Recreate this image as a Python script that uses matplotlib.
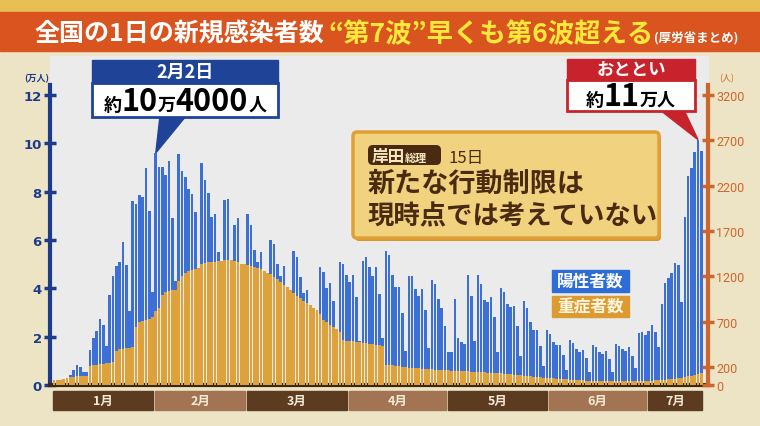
import numpy as np
import matplotlib.pyplot as plt
from matplotlib.patches import Rectangle, FancyBboxPatch, Polygon

plt.rcParams['font.family'] = ['Noto Sans CJK JP', 'DejaVu Sans']

# 陽性者数 (万人), 1/1 - 7/17
positives = [
    # 1月
    0.04, 0.05, 0.07, 0.12, 0.24, 0.41, 0.63, 0.83, 0.76, 0.55,
    0.55, 1.46, 1.94, 2.23, 2.73, 2.48, 1.60, 3.74, 4.52, 4.94,
    5.10, 5.90, 4.97, 3.06, 7.63, 7.48, 7.88, 7.79, 8.97, 7.20,
    3.83,
    # 2月
    9.60, 9.03, 9.00, 8.69, 9.27, 6.91, 4.30, 9.57, 8.84, 8.62,
    8.11, 7.90, 7.17, 4.60, 9.17, 8.50, 7.93, 6.95, 7.08, 5.50,
    4.60, 7.66, 7.70, 4.80, 6.62, 6.91, 4.80, 4.60,
    # 3月
    7.06, 6.60, 5.59, 5.10, 5.49, 4.50, 4.30, 6.00, 5.82, 4.99,
    4.50, 4.92, 3.90, 3.60, 5.54, 5.28, 4.46, 3.79, 3.94, 3.20,
    2.80, 3.00, 4.90, 4.66, 4.03, 4.22, 3.46, 2.00, 5.08, 5.00,
    4.55,
    # 4月
    4.25, 4.55, 3.63, 1.83, 5.14, 5.31, 4.87, 4.52, 4.87, 3.77,
    1.93, 5.56, 5.38, 4.55, 4.07, 4.04, 2.98, 1.42, 4.50, 4.52,
    3.97, 3.70, 3.97, 3.12, 1.53, 4.36, 4.18, 3.56, 3.17, 2.46,
    # 5月
    1.38, 1.38, 3.56, 1.93, 1.77, 1.70, 4.55, 3.70, 1.83, 4.55,
    4.18, 3.53, 3.42, 3.63, 2.80, 1.38, 4.00, 3.86, 3.35, 3.21,
    3.26, 2.43, 1.19, 3.46, 3.17, 2.59, 2.29, 2.29, 1.60, 0.77,
    2.29,
    # 6月
    2.11, 1.79, 1.66, 1.66, 1.24, 0.63, 1.86, 1.74, 1.49, 1.38,
    1.45, 1.10, 0.55, 1.66, 1.56, 1.38, 1.28, 1.42, 1.08, 0.55,
    1.70, 1.60, 1.49, 1.39, 1.56, 1.21, 0.69, 2.15, 2.18, 2.07,
    # 7月
    2.25, 2.48, 2.18, 1.56, 3.35, 4.22, 4.41, 4.62, 5.05, 4.97,
    3.42, 6.94, 8.66, 8.97, 9.63, 10.15, 9.70,
]

# 重症者数 (人)
severe = [
    # 1月
    53, 56, 59, 64, 72, 88, 93, 96, 99, 101,
    101, 213, 219, 224, 229, 235, 240, 248, 253, 379,
    392, 400, 408, 413, 419, 640, 699, 709, 720, 728,
    747,
    # 2月
    821, 853, 992, 1027, 1040, 1045, 1053, 1147, 1200, 1232,
    1253, 1269, 1280, 1293, 1333, 1347, 1352, 1355, 1360, 1368,
    1371, 1376, 1379, 1379, 1373, 1360, 1339, 1333,
    # 3月
    1325, 1315, 1301, 1293, 1280, 1253, 1240, 1221, 1192, 1171,
    1141, 1107, 1077, 1053, 1013, 987, 960, 928, 901, 880,
    853, 832, 787, 720, 699, 667, 640, 613, 587, 493,
    488,
    # 4月
    483, 480, 475, 469, 464, 459, 453, 451, 445, 440,
    435, 221, 219, 216, 213, 211, 198, 195, 192, 190,
    187, 184, 181, 179, 176, 173, 170, 165, 163, 161,
    # 5月
    160, 158, 157, 155, 153, 152, 150, 148, 147, 145,
    142, 140, 137, 135, 133, 131, 128, 125, 123, 119,
    115, 111, 107, 104, 100, 96, 92, 88, 85, 82,
    79,
    # 6月
    76, 73, 70, 67, 64, 61, 59, 58, 55, 52,
    50, 48, 46, 44, 43, 42, 41, 40, 40, 40,
    40, 40, 41, 41, 42, 42, 43, 44, 45, 46,
    # 7月
    47, 48, 50, 52, 55, 58, 62, 66, 70, 75,
    80, 88, 96, 104, 112, 120, 128,
]

months = ['1月', '2月', '3月', '4月', '5月', '6月', '7月']
month_days = [31, 28, 31, 30, 31, 30, 17]
left_ticks = [0, 2, 4, 6, 8, 10, 12]
right_ticks = [0, 200, 700, 1200, 1700, 2200, 2700, 3200]

CREAM = '#ede4c6'
PANEL = '#ebebeb'
BLUE = '#3d70d6'
ORANGE = '#dea23c'
NAVY = '#1c3b8c'
RUST = '#d0652c'
BROWN = '#4a2b12'
RED = '#c8232c'
DBLUE = '#1f4497'

days = np.arange(len(positives))

fig = plt.figure(figsize=(7.6, 4.27), dpi=100, facecolor=CREAM)
bg = fig.add_axes([0, 0, 1, 1], zorder=0)
bg.set_xlim(0, 760)
bg.set_ylim(427, 0)
bg.axis('off')
renderer = fig.canvas.get_renderer()

# title banner
bg.add_patch(Rectangle((0, 0), 760, 13, color='#e7bf52'))
bg.add_patch(Rectangle((0, 13), 760, 39, color='#d9541f'))
# plot panel
bg.add_patch(Rectangle((50, 57), 658, 329, color=PANEL))

# chart axes
ax = fig.add_axes([50 / 760, 41 / 427, 658 / 760, 300 / 427], zorder=1)
ax.patch.set_visible(False)
ax.bar(days, positives, width=0.8, color=BLUE)
ax.set_xlim(-1.2, 199.05)
ax.set_ylim(0, 12.41)
ax2 = ax.twinx()
ax2.bar(days, severe, width=0.8, color=ORANGE)
ax2.set_ylim(0, 12.41 * 3200 / 12)

for s in ['top', 'right']:
    ax.spines[s].set_visible(False)
for s in ['top', 'left', 'bottom']:
    ax2.spines[s].set_visible(False)
ax.spines['left'].set_color(NAVY)
ax.spines['left'].set_linewidth(3)
ax.spines['bottom'].set_color('#3b2812')
ax.spines['bottom'].set_linewidth(3)
ax2.spines['right'].set_color(RUST)
ax2.spines['right'].set_linewidth(3)

ax.set_xticks([])
ax.set_yticks(left_ticks, [str(t) for t in left_ticks], fontweight='bold',
              fontsize=9.5, color=NAVY, family=['DejaVu Sans'])
ax.tick_params(axis='y', direction='inout', length=8, width=2.5, color=NAVY, pad=2)
ax2.set_yticks(right_ticks, [str(t) for t in right_ticks], fontsize=9,
               color=RUST, family=['Roboto'])
ax2.tick_params(axis='y', direction='inout', length=8, width=2.5, color=RUST, pad=2)

bg.text(37, 79, '(万人)', fontsize=6.5, color=NAVY, ha='center', va='center',
        fontweight='bold')
bg.text(727, 79, '(人)', fontsize=6.5, color=RUST, ha='center', va='center')


def to_bg(axis, x, y):
    return bg.transData.inverted().transform(axis.transData.transform((x, y)))


def seq_text(x, y, parts, align='left'):
    objs = []
    total = 0
    for s, size, color, weight in parts:
        t = bg.text(0, y, s, fontsize=size, color=color, fontweight=weight,
                    ha='left', va='baseline', zorder=5)
        w = t.get_window_extent(renderer).width
        objs.append((t, w))
        total += w
    if align == 'center':
        x = x - total / 2
    for t, w in objs:
        t.set_x(x)
        x += w


# month bar
start = 0
for k, (m, n) in enumerate(zip(months, month_days)):
    x0 = to_bg(ax, start - 0.5, 0)[0] + 1
    x1 = to_bg(ax, start + n - 0.5, 0)[0] - 1
    col = '#5c3b20' if k % 2 == 0 else '#a37453'
    bg.add_patch(Rectangle((x0, 392), x1 - x0, 19, color=col))
    bg.text((x0 + x1) / 2, 401.5, m, fontsize=9, fontweight='bold',
            color='#f4ead6', ha='center', va='center')
    start += n

# title
seq_text(35, 42, [('全国の1日の新規感染者数', 18, 'white', 'bold'),
                  (' ', 12, 'white', 'bold'),
                  ('“第7波”早くも第6波超える', 19, '#ffe83c', 'bold'),
                  ('(厚労省まとめ)', 9, 'white', 'bold')])

# callout: Feb peak
peak_i = int(np.argmax(positives[:100]))
tip = to_bg(ax, peak_i, positives[peak_i])
bg.add_patch(Polygon([(160, 117), (186, 117), tuple(tip)], color=DBLUE, zorder=4))
bg.add_patch(Rectangle((92, 84), 186, 34, fc='white', ec=DBLUE, lw=2, zorder=4))
bg.add_patch(Rectangle((92, 61), 186, 23, color=DBLUE, zorder=4))
bg.text(185, 72.5, '2月2日', fontsize=13, fontweight='bold', color='white',
        ha='center', va='center', zorder=5)
seq_text(185, 111, [('約', 13, 'black', 'bold'), ('10', 22, 'black', 'bold'),
                    ('万', 13, 'black', 'bold'), ('4000', 22, 'black', 'bold'),
                    ('人', 13, 'black', 'bold')], align='center')

# callout: latest
last_i = int(np.argmax(positives))
tip = to_bg(ax, last_i, positives[last_i])
bg.add_patch(Polygon([(660, 111), (684, 111), tuple(tip)], color=RED, zorder=4))
bg.add_patch(Rectangle((567, 81), 128, 31, fc='white', ec=RED, lw=2, zorder=4))
bg.add_patch(Rectangle((567, 60), 128, 21, color=RED, zorder=4))
bg.text(631, 70.5, 'おととい', fontsize=12.5, fontweight='bold', color='white',
        ha='center', va='center', zorder=5)
seq_text(631, 106, [('約', 13, 'black', 'bold'), ('11', 22, 'black', 'bold'),
                    ('万人', 13, 'black', 'bold')], align='center')

# Kishida box
bg.add_patch(FancyBboxPatch((355, 136), 306, 106, boxstyle='round,pad=0,rounding_size=4',
                            fc='#db962c', ec='none', zorder=3))
bg.add_patch(FancyBboxPatch((353, 133), 306, 106, boxstyle='round,pad=0,rounding_size=4',
                            fc='#f1d27e', ec='#e0a035', lw=2.5, zorder=3))
bg.add_patch(FancyBboxPatch((368, 146), 73, 20, boxstyle='round,pad=0,rounding_size=5',
                            fc=BROWN, ec='none', zorder=4))
seq_text(372, 162, [('岸田', 12, '#f6e6bd', 'bold'), ('総理', 8, '#f6e6bd', 'bold')])
seq_text(449, 163, [('15日', 12, BROWN, 'normal')])
seq_text(368, 192, [('新たな行動制限は', 19.5, BROWN, 'bold')])
seq_text(368, 224, [('現時点では考えていない', 19, BROWN, 'bold')])

# legend
bg.add_patch(Rectangle((552, 271), 77, 22, color='#2e6dd5', zorder=4))
bg.text(590.5, 282, '陽性者数', fontsize=12, fontweight='bold', color='white',
        ha='center', va='center', zorder=5)
bg.add_patch(Rectangle((552, 297), 77, 21, color='#dc9a30', zorder=4))
bg.text(590.5, 307.5, '重症者数', fontsize=12, fontweight='bold', color='#fff6e0',
        ha='center', va='center', zorder=5)

fig.savefig('out.png', dpi=100, facecolor=CREAM)
